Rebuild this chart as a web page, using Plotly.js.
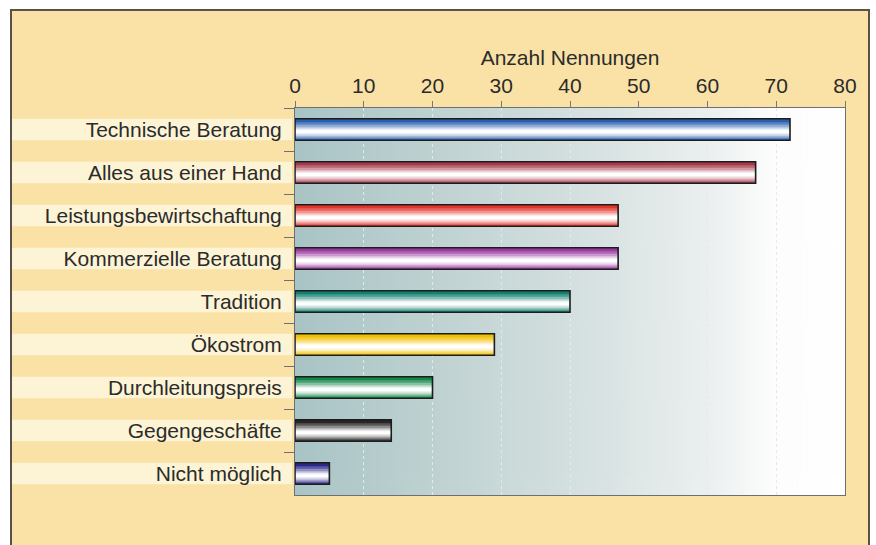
<!DOCTYPE html>
<html>
<head>
<meta charset="utf-8">
<script src="https://cdn.plot.ly/plotly-3.0.1.min.js"></script>
<style>
  html, body { margin: 0; padding: 0; background: #fff; overflow: hidden; }
  #chart {
    position: absolute; left: 10px; top: 9px;
    width: 856px; height: 534px;
    border: 2px solid #5a5248; border-bottom: none;
    background: #fae2a7;
  }
</style>
</head>
<body>
<div id="chart"></div>
<script>
  // Data
  const categories = [
    "Technische Beratung", "Alles aus einer Hand", "Leistungsbewirtschaftung",
    "Kommerzielle Beratung", "Tradition", "Ökostrom",
    "Durchleitungspreis", "Gegengeschäfte", "Nicht möglich"
  ];
  const counts = [72, 67, 47, 47, 40, 29, 20, 14, 5];
  const tickValues = [0, 10, 20, 30, 40, 50, 60, 70, 80];

  const barColors = ["#2a5fae", "#a63a4c", "#e2352c", "#983a9e", "#12806e",
                     "#f0bf00", "#14874a", "#262626", "#2a2888"];

  const FONT = "Liberation Sans, Arial, Helvetica, sans-serif";

  // mix a hex colour towards white
  function mix(hex, t) {
    const n = parseInt(hex.slice(1), 16);
    const r = (n >> 16) & 255, g = (n >> 8) & 255, b = n & 255;
    const f = c => Math.round(c + (255 - c) * t);
    return `rgb(${f(r)},${f(g)},${f(b)})`;
  }

  // Cylinder look: stacked bars, lighter toward the highlight
  const layers = [
    { w: 0.50, t: 0.00, d: 0.00 },
    { w: 0.40, t: 0.22, d: 0.03 },
    { w: 0.30, t: 0.48, d: 0.04 },
    { w: 0.21, t: 0.72, d: 0.05 },
    { w: 0.13, t: 0.90, d: 0.05 },
    { w: 0.06, t: 1.00, d: 0.05 }
  ];

  const traces = layers.map(l => ({
    type: "bar",
    orientation: "h",
    x: counts,
    y: categories,
    width: categories.map(() => l.w),
    offset: categories.map(() => -l.w / 2 + l.d),
    marker: { color: barColors.map(c => mix(c, l.t)), line: { width: 0 } },
    hoverinfo: "skip",
    showlegend: false
  }));

  // outline on top
  traces.push({
    type: "bar",
    orientation: "h",
    x: counts,
    y: categories,
    width: 0.5,
    marker: { color: "rgba(0,0,0,0)", line: { color: "#1c1c1c", width: 1.6 } },
    hoverinfo: "skip",
    showlegend: false
  });

  // plot background gradient (teal grey -> white)
  const cv = document.createElement("canvas");
  cv.width = 400; cv.height = 10;
  const cx = cv.getContext("2d");
  const grad = cx.createLinearGradient(0, 0, 400, 0);
  grad.addColorStop(0, "#a9c4c5");
  grad.addColorStop(0.3, "#c3d4d4");
  grad.addColorStop(0.55, "#d8e2e2");
  grad.addColorStop(0.75, "#ebefef");
  grad.addColorStop(0.87, "#fdfdfd");
  grad.addColorStop(1, "#ffffff");
  cx.fillStyle = grad;
  cx.fillRect(0, 0, 400, 10);

  // light stripes behind the category labels
  const stripes = categories.map((c, i) => ({
    type: "rect", xref: "paper", yref: "y", layer: "below",
    x0: -283 / 550, x1: -3 / 550, y0: i - 0.25, y1: i + 0.25,
    fillcolor: "#fdf4d6", line: { width: 0 }
  }));

  const layout = {
    width: 856,
    height: 534,
    margin: { l: 283, r: 23, t: 97, b: 50 },
    paper_bgcolor: "#fae2a7",
    plot_bgcolor: "rgba(0,0,0,0)",
    font: { family: FONT, color: "#2b2b2b", size: 21 },
    barmode: "overlay",
    showlegend: false,
    images: [{
      source: cv.toDataURL(),
      xref: "paper", yref: "paper",
      x: 0, y: 1, sizex: 1, sizey: 1,
      sizing: "stretch", layer: "below",
      xanchor: "left", yanchor: "top"
    }],
    shapes: stripes,
    xaxis: {
      side: "top",
      range: [0, 80],
      tickvals: tickValues,
      ticktext: tickValues.map(String),
      ticks: "outside", ticklen: 6, tickcolor: "#777",
      showline: true, linecolor: "#6f6f6f", linewidth: 1, mirror: true,
      showgrid: true, gridcolor: "#e2eaea", griddash: "dot", gridwidth: 1,
      zeroline: false,
      tickfont: { size: 21, family: FONT, color: "#2b2b2b" },
      title: { text: "Anzahl Nennungen", font: { size: 21, family: FONT, color: "#2b2b2b" }, standoff: 2 },
      fixedrange: true
    },
    yaxis: {
      type: "category",
      autorange: "reversed",
      ticks: "outside", tickson: "boundaries", ticklen: 10, tickcolor: "#6f6f6f",
      ticklabelstandoff: 8,
      showline: true, linecolor: "#6f6f6f", linewidth: 1, mirror: true,
      showgrid: false, zeroline: false,
      tickfont: { size: 21, family: FONT, color: "#2b2b2b" },
      fixedrange: true
    }
  };

  Plotly.newPlot("chart", traces, layout, { displayModeBar: false, staticPlot: true });
</script>
</body>
</html>
